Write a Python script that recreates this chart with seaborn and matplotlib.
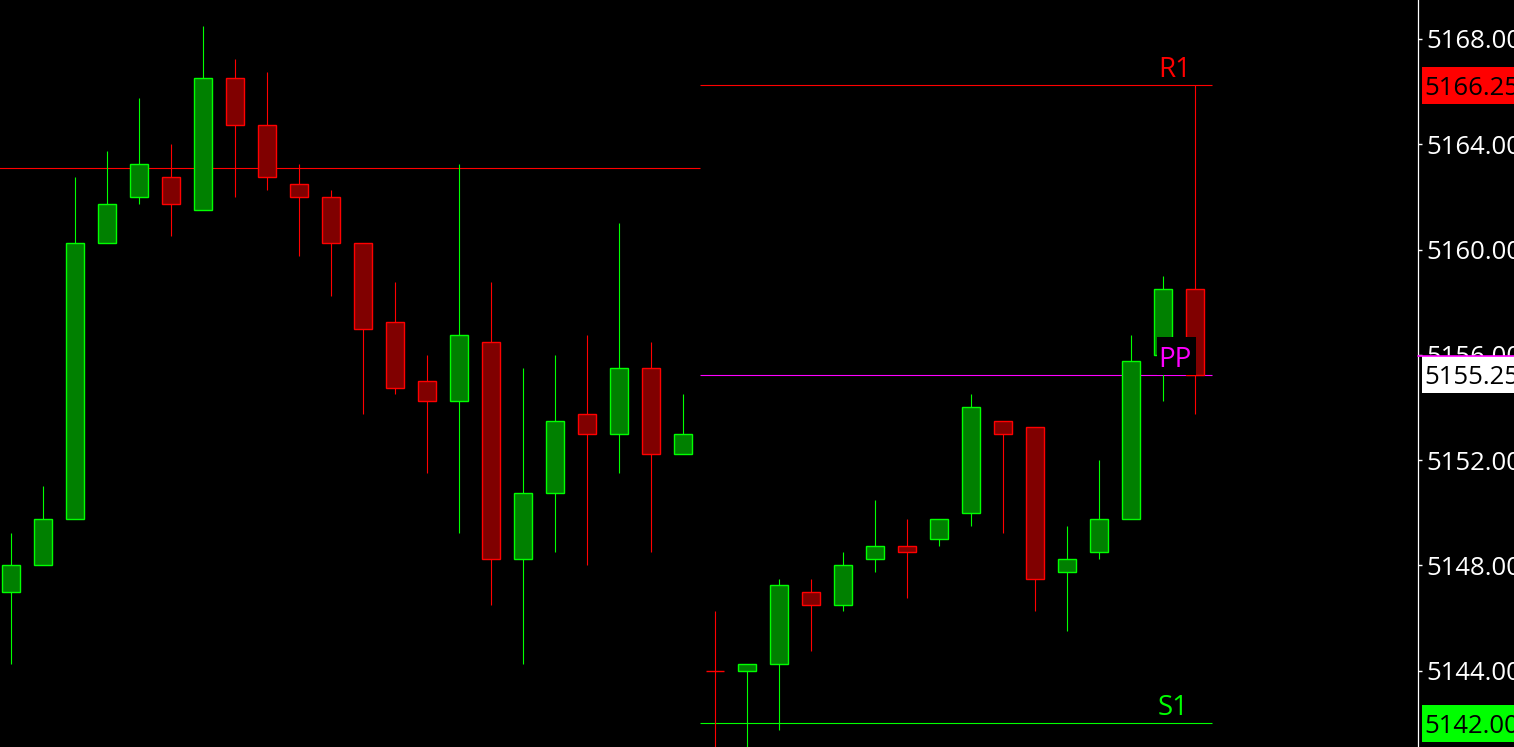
import numpy as np
import pandas as pd
import matplotlib
matplotlib.use("Agg")
import matplotlib.pyplot as plt
import seaborn as sns
from matplotlib.patches import Rectangle
from matplotlib.lines import Line2D
from matplotlib.transforms import blended_transform_factory

# ---------------- data ----------------
opens = [5147.0, 5148.0, 5149.75, 5160.25, 5162.0, 5162.75, 5161.5, 5166.5, 5164.75, 5162.5,
         5162.0, 5160.25, 5157.25, 5155.0, 5154.25, 5156.5, 5148.25, 5150.75, 5153.75, 5153.0,
         5155.5, 5152.25,
         5144.0, 5144.0, 5144.25, 5147.0, 5146.5, 5148.25, 5148.75, 5149.0, 5150.0, 5153.5,
         5153.25, 5147.75, 5148.5, 5149.75, 5156.0, 5158.5]
highs = [5149.25, 5151.0, 5162.75, 5163.75, 5165.75, 5164.0, 5168.5, 5167.25, 5166.75, 5163.25,
         5162.25, 5160.25, 5158.75, 5156.0, 5163.25, 5158.75, 5155.5, 5156.0, 5156.75, 5161.0,
         5156.5, 5154.5,
         5146.25, 5144.25, 5147.5, 5147.5, 5148.5, 5150.5, 5149.75, 5149.75, 5154.5, 5153.5,
         5153.25, 5149.5, 5152.0, 5156.75, 5159.0, 5166.25]
lows = [5144.25, 5148.0, 5149.75, 5160.25, 5161.75, 5160.5, 5161.5, 5162.0, 5162.25, 5159.75,
        5158.25, 5153.75, 5154.5, 5151.5, 5149.25, 5146.5, 5144.25, 5148.5, 5148.0, 5151.5,
        5148.5, 5152.25,
        5140.5, 5140.75, 5141.75, 5144.75, 5146.25, 5147.75, 5146.75, 5148.75, 5149.5, 5149.25,
        5146.25, 5145.5, 5148.25, 5149.75, 5154.25, 5153.75]
closes = [5148.0, 5149.75, 5160.25, 5161.75, 5163.25, 5161.75, 5166.5, 5164.75, 5162.75, 5162.0,
          5160.25, 5157.0, 5154.75, 5154.25, 5156.75, 5148.25, 5150.75, 5153.5, 5153.0, 5155.5,
          5152.25, 5153.0,
          5144.0, 5144.25, 5147.25, 5146.5, 5148.0, 5148.75, 5148.5, 5149.75, 5154.0, 5153.0,
          5147.5, 5148.25, 5149.75, 5155.75, 5158.5, 5155.25]

prev_level = 5163.1          # level carried from the earlier session
pivot_names = ["R1", "PP", "S1"]
pivot_values = [5166.25, 5155.25, 5142.00]
tick_values = [5144, 5148, 5152, 5156, 5160, 5164, 5168]

# ---------------- style ----------------
sns.set_style("dark", {"axes.facecolor": "black", "figure.facecolor": "black",
                       "axes.edgecolor": "white", "grid.color": "black"})
plt.rcParams['font.family'] = ['Open Sans', 'DejaVu Sans']

W, H = 1514, 747
fig = plt.figure(figsize=(W / 100, H / 100), dpi=100)
fig.patch.set_facecolor("black")
AXW = 1418
ax = fig.add_axes([0, 0, AXW / W, 1])
ax.set_facecolor("black")

df = pd.DataFrame({"open": opens, "high": highs, "low": lows, "close": closes})
df["idx"] = np.arange(len(df))
df["up"] = df["close"] > df["open"]
df["edge"] = np.where(df["up"], "#00FF00", "#FF0000")
df["fill"] = np.where(df["up"], "#008000", "#800000")
df["bottom"] = df[["open", "close"]].min(axis=1)
df["height"] = (df["close"] - df["open"]).abs()

# wicks
ax.vlines(df["idx"], df["low"], df["high"], colors=df["edge"], linewidth=0.8, zorder=2)
# bodies
ax.bar(df["idx"], df["height"], bottom=df["bottom"], width=0.54,
       color=df["fill"], edgecolor=df["edge"], linewidth=1.0, zorder=3)

# session split
split = 21.53
end = 37.53
ax.hlines(prev_level, -0.4, split, color="#FF0000", linewidth=0.8, zorder=1)
pcolors = {"R1": "#FF0000", "PP": "#FF00FF", "S1": "#00FF00"}
for name, val in zip(pivot_names, pivot_values):
    ax.hlines(val, split, end, color=pcolors[name], linewidth=0.8, zorder=1)

lab_x = 35.81
ppx = (1196 - 11) / 32
pp_top = 5155.25 + (375 - 337) / 26.32
ax.add_patch(Rectangle((lab_x, pivot_values[1]), ppx - lab_x, pp_top - pivot_values[1],
                       facecolor="black", edgecolor="none", zorder=5))
for name, val in zip(pivot_names, pivot_values):
    ax.annotate(name, xy=(lab_x + 0.03, val), xytext=(0, 5.8), textcoords="offset points",
                color=pcolors[name], fontsize=20, ha="left", va="baseline", zorder=6)

ax.set_xlim(-11 / 32, (AXW - 11) / 32)
ax.set_ylim(5168 - (H - 39) / 26.32, 5168 + 39 / 26.32)

ax.yaxis.tick_right()
ax.set_yticks(tick_values)
ax.set_yticklabels([f"{v:.2f}" for v in tick_values])
ax.tick_params(axis="y", colors="white", length=3, width=1, pad=3, labelsize=18.5, right=True)
ax.set_xticks([])
ax.grid(False)
for s in ["left", "top", "bottom"]:
    ax.spines[s].set_visible(False)
ax.spines["right"].set_color("white")
ax.spines["right"].set_linewidth(0.9)

# price tags on the axis
trans = blended_transform_factory(fig.transFigure, ax.transData)
hbox = 37 / 26.32
tag_fc = {"R1": "#FF0000", "PP": "#FFFFFF", "S1": "#00FF00"}
for name, val in zip(pivot_names, pivot_values):
    fig.add_artist(Rectangle((1422 / W, val - hbox / 2), (W - 1422) / W + 0.01, hbox,
                             transform=trans, facecolor=tag_fc[name], edgecolor="none",
                             zorder=5, clip_on=False))
    fig.text(1424 / W, val, f"{val:.2f}", transform=trans, color="black", fontsize=18.5,
             ha="left", va="center_baseline", zorder=6)
fig.add_artist(Line2D([AXW / W, 1.0], [pivot_values[1] + hbox / 2] * 2, transform=trans,
                      color="#FF00FF", linewidth=1.2, zorder=7))

fig.savefig("out.png", dpi=100, facecolor="black")
